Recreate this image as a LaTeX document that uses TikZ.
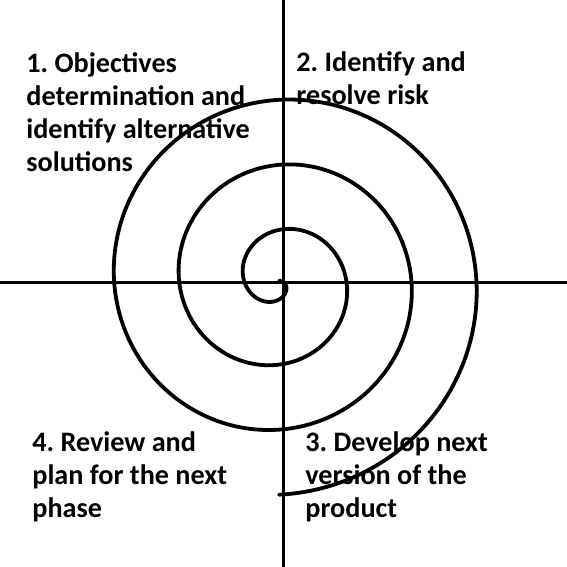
\documentclass[tikz,border=0pt]{standalone}
\usepackage{fontspec}
\setmainfont{Carlito}
\frenchspacing
\begin{document}
\begin{tikzpicture}[x=0.5pt, y=0.5pt,
    every node/.style={font=\bfseries\fontsize{14.1}{16.6}\selectfont, align=left, inner sep=0pt, anchor=base west},
    eje/.style={line width=1.5pt},
    espiral/.style={line width=1.9pt, line join=round, line cap=round}]
    \useasboundingbox (0,0) rectangle (567,567);
    % Ejes
    \coordinate (arriba) at (283,567);
    \coordinate (abajo) at (283,0);
    \coordinate (izq) at (0,284);
    \coordinate (der) at (567,284);
    \draw[eje] (arriba) -- (abajo);
    \draw[eje] (izq) -- (der);
    % Espiral
    \draw[espiral] plot[domain=-103:1080, samples=500, smooth, variable=\t]
        ({279 - 0.18064*(\t+103)*sin(\t)}, {286 - 0.18064*(\t+103)*cos(\t)});
    % Cuadrantes (ancla en la base de la ultima linea)
    \node (c1) at (26,395) {1. Objectives\\determination and\\identify alternative\\solutions};
    \node (c2) at (296,462) {2. Identify and\\resolve risk};
    \node (c3) at (305,49) {3. Develop next\\version of the\\product};
    \node (c4) at (32,49) {4. Review and\\plan for the next\\phase};
\end{tikzpicture}
\end{document}
